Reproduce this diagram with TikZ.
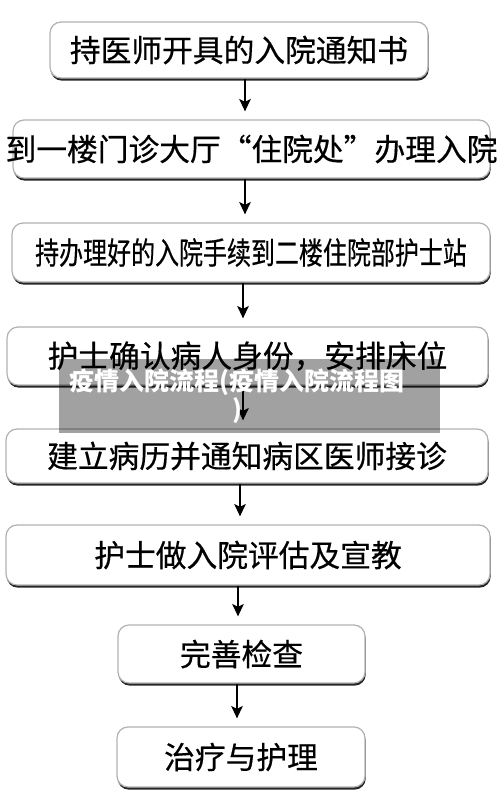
\documentclass[tikz,border=0pt]{standalone}
\usepackage{fontspec}
\setmainfont{Noto Sans CJK SC}[UprightFeatures={FakeBold=0.5}]
\usepackage{graphicx}
\usetikzlibrary{arrows.meta, shadows}

\begin{document}
\begin{tikzpicture}[x=0.02cm, y=-0.02cm,
    stepbox/.style={draw=gray!60, line width=0.7pt, fill=white, rounded corners=0.22cm,
      inner sep=0pt, font=\fontsize{17.5pt}{20pt}\selectfont,
      drop shadow={shadow xshift=0.4pt, shadow yshift=-1.5pt, opacity=1, fill=black!85}},
    flow/.style={-{Stealth[length=7pt, width=6.5pt, inset=1.5pt]}, line width=1.1pt, shorten >=0.16cm}]
  \useasboundingbox (0,0) rectangle (500,792);

  %Define nodes
  \node[stepbox, minimum width=7.56cm, minimum height=1.12cm] (notice) at (239,50) {持医师开具的入院通知书};
  \node[stepbox, minimum width=9.54cm, minimum height=1.16cm] (admit) at (251.5,149) {\makebox[0pt][c]{到一楼门诊大厅“住院处”办理入院}};
  \node[stepbox, minimum width=9.56cm, minimum height=1.18cm] (station) at (251,252.5) {\scalebox{0.78}[1]{持办理好的入院手续到二楼住院部护士站}};
  \node[stepbox, minimum width=9.62cm, minimum height=1.16cm] (bed) at (247.5,356) {护士确认病人身份，安排床位};
  \node[stepbox, minimum width=9.64cm, minimum height=1.08cm] (record) at (247,456) {建立病历并通知病区医师接诊};
  \node[stepbox, minimum width=9.68cm, minimum height=1.2cm] (assess) at (248,555) {护士做入院评估及宣教};
  \node[stepbox, minimum width=4.94cm, minimum height=1.16cm] (exam) at (241.5,654) {完善检查};
  \node[stepbox, minimum width=4.96cm, minimum height=1.2cm] (care) at (241,757) {治疗与护理};

  % Connect the nodes
  \draw[flow] ([xshift=0.12cm]notice.south) -- ([xshift=0.12cm]notice.south |- admit.north);
  \draw[flow] ([xshift=-0.13cm]admit.south) -- ([xshift=-0.13cm]admit.south |- station.north);
  \draw[flow] ([xshift=-0.16cm]station.south) -- ([xshift=-0.16cm]station.south |- bed.north);
  \draw[flow] ([xshift=-0.09cm]bed.south) -- ([xshift=-0.09cm]bed.south |- record.north);
  \draw[flow] ([xshift=-0.14cm]record.south) -- ([xshift=-0.14cm]record.south |- assess.north);
  \draw[flow] ([xshift=-0.2cm]assess.south) -- ([xshift=-0.2cm]assess.south |- exam.north);
  \draw[flow] ([xshift=-0.09cm]exam.south) -- ([xshift=-0.09cm]exam.south |- care.north);

  % Caption over the picture
  \fill[black, opacity=0.37] (59,359) rectangle (440,433);
  \node[text=white, align=center, inner sep=0pt, font=\bfseries\fontsize{14.2pt}{16pt}\selectfont] (caption) at (237,396) {疫情入院流程(疫情入院流程图\\)};
\end{tikzpicture}
\end{document}
